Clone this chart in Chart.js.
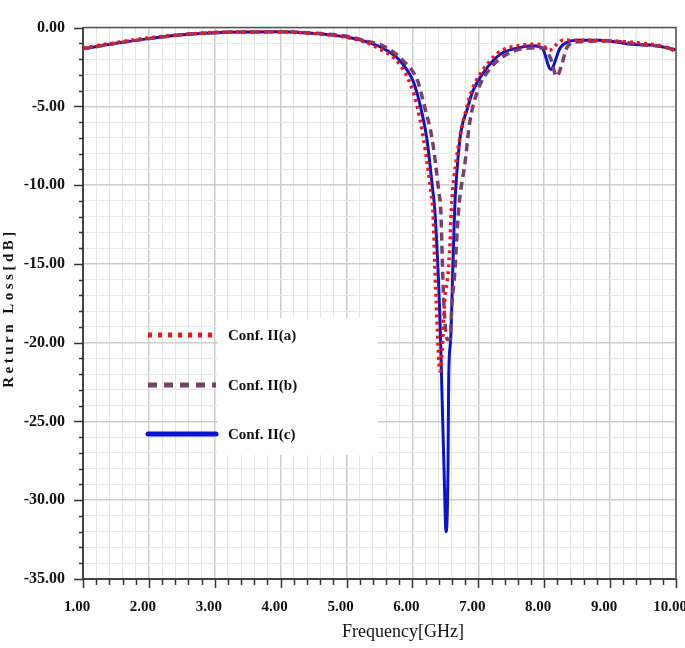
<!DOCTYPE html>
<html>
<head>
<meta charset="utf-8">
<script src="https://cdn.jsdelivr.net/npm/chart.js@4.4.1/dist/chart.umd.min.js"></script>
<style>
    html, body { margin: 0; padding: 0; background: #fff; }
    #wrap { width: 685px; height: 648px; }
</style>
</head>
<body>
<div id="wrap"><canvas id="rl-chart"></canvas></div>
<script>
// values (GHz / dB)
var freqA = [1.0, 1.5, 2.0, 2.5, 3.0, 3.5, 4.0, 4.5, 5.0, 5.3, 5.5, 5.76, 5.95, 6.06, 6.17, 6.28, 6.31, 6.36, 6.42, 6.45, 6.49, 6.54, 6.57, 6.59, 6.67, 6.77, 6.9, 7.02, 7.3, 7.6, 7.85, 8.0, 8.08, 8.15, 8.29, 8.5, 9.0, 9.5, 9.8, 10.0];
var lossA = [-1.3, -0.95, -0.65, -0.45, -0.3, -0.27, -0.27, -0.38, -0.62, -0.95, -1.35, -2.1, -3.4, -4.8, -7.1, -10.4, -11.6, -17.3, -21.8, -20.5, -17.3, -15.7, -13.7, -11.6, -8.3, -6.0, -4.0, -3.0, -1.6, -1.15, -1.05, -1.2, -1.45, -1.2, -0.8, -0.8, -0.85, -1.0, -1.2, -1.5];

var freqB = [1.0, 1.5, 2.0, 2.5, 3.0, 3.5, 4.0, 4.5, 5.0, 5.3, 5.55, 5.86, 6.08, 6.17, 6.3, 6.4, 6.43, 6.46, 6.49, 6.53, 6.57, 6.6, 6.64, 6.7, 6.8, 6.87, 6.99, 7.18, 7.43, 7.78, 8.0, 8.1, 8.19, 8.27, 8.34, 8.5, 9.0, 9.5, 9.8, 10.0];
var lossB = [-1.35, -1.0, -0.7, -0.45, -0.32, -0.28, -0.27, -0.35, -0.55, -0.85, -1.15, -2.1, -3.4, -4.8, -7.1, -10.4, -11.6, -15.7, -18.5, -19.8, -19.8, -17.5, -15.7, -11.6, -8.5, -6.0, -4.0, -2.6, -1.7, -1.3, -1.3, -2.0, -3.1, -2.3, -1.3, -0.9, -0.85, -1.1, -1.2, -1.45];

var freqC = [1.0, 1.5, 2.0, 2.5, 3.0, 3.5, 4.0, 4.5, 5.0, 5.3, 5.55, 5.81, 6.01, 6.11, 6.22, 6.31, 6.34, 6.42, 6.45, 6.48, 6.51, 6.54, 6.55, 6.58, 6.61, 6.64, 6.72, 6.83, 6.92, 7.07, 7.33, 7.59, 7.83, 7.97, 8.1, 8.24, 8.36, 8.5, 8.85, 9.35, 9.6, 10.0];
var lossC = [-1.35, -1.0, -0.7, -0.45, -0.32, -0.28, -0.27, -0.37, -0.6, -0.9, -1.3, -2.1, -3.4, -4.8, -7.1, -10.4, -11.6, -18.8, -23.5, -28.1, -32.0, -28.0, -22.3, -19.8, -15.7, -11.6, -7.1, -5.2, -4.0, -2.9, -1.7, -1.3, -1.15, -1.3, -2.65, -1.3, -0.9, -0.8, -0.8, -1.07, -1.1, -1.4];

var seriesNames = ['Conf. II(a)', 'Conf. II(b)', 'Conf. II(c)'];
var xTitle = 'Frequency[GHz]';
var yTitle = 'Return Loss[dB]';

function toPoints(xs, ys) {
    return xs.map(function (x, i) { return { x: x, y: ys[i] }; });
}

function isWhole(v, step) {
    var q = v / step;
    return Math.abs(q - Math.round(q)) < 1e-6;
}

var SERIF = "'Liberation Serif', 'DejaVu Serif', serif";

// ticks, frame, titles and the in-plot legend
var decorations = {
    id: 'decorations',
    afterDraw: function (chart) {
        var ctx = chart.ctx;
        var area = chart.chartArea;
        var xs = chart.scales.x;
        var ys = chart.scales.y;

        ctx.save();
        ctx.strokeStyle = '#555';
        ctx.lineWidth = 1.5;
        ctx.beginPath();
        ctx.moveTo(area.left, area.top);
        ctx.lineTo(area.right, area.top);
        ctx.lineTo(area.right, area.bottom);
        ctx.stroke();

        ctx.strokeStyle = '#333';
        ctx.lineWidth = 1.5;
        xs.ticks.forEach(function (t) {
            var px = Math.round(xs.getPixelForValue(t.value)) + 0.5;
            var len = isWhole(t.value, 1) ? 9 : 6;
            ctx.beginPath();
            ctx.moveTo(px, area.bottom);
            ctx.lineTo(px, area.bottom + len);
            ctx.stroke();
        });
        ys.ticks.forEach(function (t) {
            var py = Math.round(ys.getPixelForValue(t.value)) + 0.5;
            var len = isWhole(t.value, 5) ? 9 : 4;
            ctx.beginPath();
            ctx.moveTo(area.left - len, py);
            ctx.lineTo(area.left, py);
            ctx.stroke();
        });

        // axis titles
        ctx.fillStyle = '#111';
        ctx.textAlign = 'center';
        ctx.textBaseline = 'middle';
        ctx.font = '18px ' + SERIF;
        ctx.fillText(xTitle, 403, 632);

        ctx.save();
        ctx.translate(9, 308);
        ctx.rotate(-Math.PI / 2);
        ctx.font = 'bold 15px ' + SERIF;
        ctx.letterSpacing = '3.5px';
        ctx.fillText(yTitle, 0, 0);
        ctx.restore();

        // legend
        ctx.fillStyle = '#fff';
        ctx.fillRect(218, 318, 160, 137);
        var rows = [335, 385, 434];
        chart.data.datasets.forEach(function (ds, i) {
            ctx.save();
            ctx.strokeStyle = ds.borderColor;
            ctx.lineWidth = 5;
            ctx.setLineDash(i === 0 ? [4, 6] : (i === 1 ? [9, 7] : []));
            ctx.lineCap = i === 2 ? 'round' : 'butt';
            ctx.beginPath();
            ctx.moveTo(148, rows[i]);
            ctx.lineTo(216, rows[i]);
            ctx.stroke();
            ctx.restore();
            ctx.fillStyle = '#111';
            ctx.textAlign = 'left';
            ctx.font = 'bold 15px ' + SERIF;
            ctx.fillText(ds.label, 228, rows[i] + 1);
        });
        ctx.restore();
    }
};

var ctx = document.getElementById('rl-chart');
new Chart(ctx, {
    type: 'line',
    data: {
        datasets: [
            {
                label: seriesNames[0],
                data: toPoints(freqA, lossA),
                borderColor: '#ff1010',
                borderWidth: 3.5,
                borderDash: [3, 4],
            },
            {
                label: seriesNames[1],
                data: toPoints(freqB, lossB),
                borderColor: '#7a3f68',
                borderWidth: 3.5,
                borderDash: [8, 5],
            },
            {
                label: seriesNames[2],
                data: toPoints(freqC, lossC),
                borderColor: '#0a14cc',
                borderWidth: 3,
            },
        ],
    },
    options: {
        responsive: true,
        maintainAspectRatio: false,
        animation: false,
        layout: { padding: { top: 12, right: 9, left: 0, bottom: 0 } },
        elements: {
            point: { radius: 0 },
            line: { cubicInterpolationMode: 'monotone', fill: false },
        },
        plugins: {
            legend: { display: false },
            tooltip: { enabled: false },
        },
        scales: {
            x: {
                type: 'linear',
                min: 1,
                max: 10,
                afterFit: function (scale) {
                    scale.height = 69;
                    scale.paddingLeft = 0;
                    scale.paddingRight = 0;
                },
                ticks: {
                    stepSize: 0.2,
                    autoSkip: false,
                    maxRotation: 0,
                    padding: 19,
                    labelOffset: -6,
                    color: '#111',
                    font: { family: SERIF, size: 15, weight: 'bold' },
                    callback: function (v) {
                        return isWhole(v, 1) ? v.toFixed(2) : '';
                    },
                },
                grid: {
                    drawTicks: false,
                    color: function (c) {
                        return c.tick && isWhole(c.tick.value, 1) ? '#cccccc' : '#e6e6e6';
                    },
                    lineWidth: function (c) {
                        return c.tick && isWhole(c.tick.value, 1) ? 1.5 : 1;
                    },
                },
                border: { color: '#444', width: 2 },
            },
            y: {
                min: -35,
                max: 0,
                afterFit: function (scale) {
                    scale.width = 83;
                },
                ticks: {
                    stepSize: 1,
                    autoSkip: false,
                    padding: 18,
                    color: '#111',
                    font: { family: SERIF, size: 16, weight: 'bold' },
                    callback: function (v) {
                        return isWhole(v, 5) ? v.toFixed(2) : '';
                    },
                },
                grid: {
                    drawTicks: false,
                    color: function (c) {
                        return c.tick && isWhole(c.tick.value, 5) ? '#cccccc' : '#e6e6e6';
                    },
                    lineWidth: function (c) {
                        return c.tick && isWhole(c.tick.value, 5) ? 1.5 : 1;
                    },
                },
                border: { color: '#444', width: 2 },
            },
        },
    },
    plugins: [decorations],
});
</script>
</body>
</html>
